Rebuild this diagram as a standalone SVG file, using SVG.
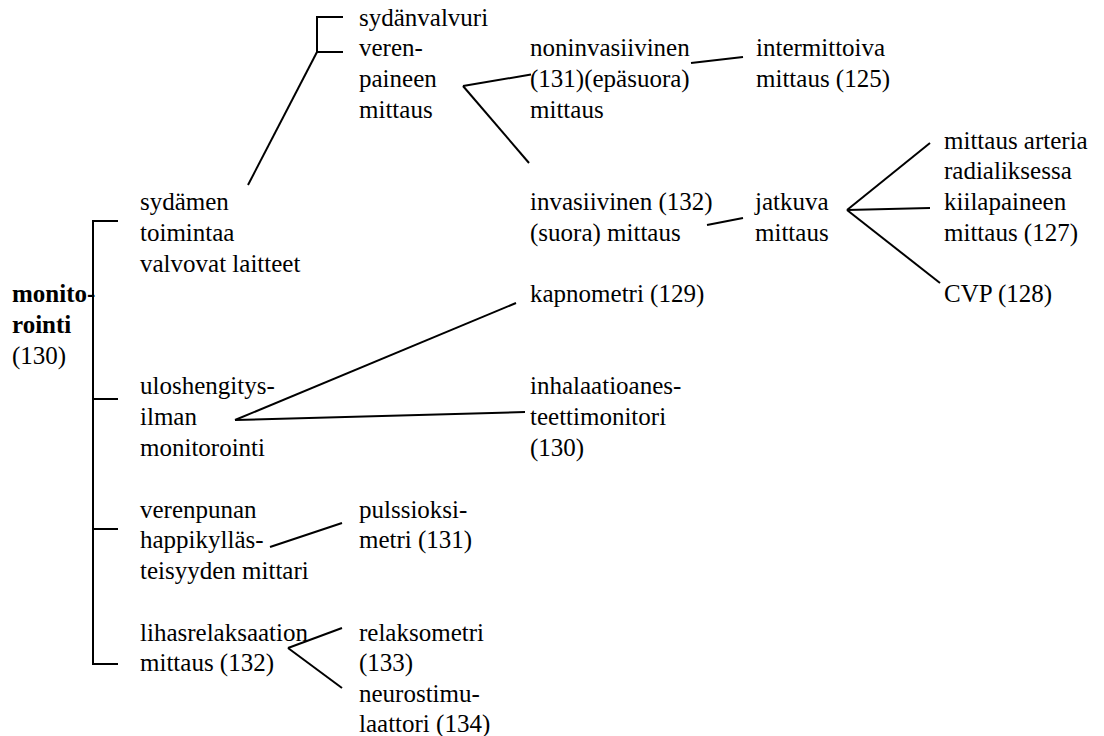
<svg xmlns="http://www.w3.org/2000/svg" width="1104" height="736" viewBox="0 0 1104 736">
<style>
.t text{font-size:25px;fill:#000}
.b{font-weight:bold}
.c line,.c polyline{stroke:#000;stroke-width:2;fill:none}
</style>
<rect width="1104" height="736" fill="#fff"/>
<g class="c" id="connectors">
<polyline points="118,221 93,221 93,664 118,664"/>
<line x1="93" y1="399" x2="118" y2="399"/>
<line x1="93" y1="529" x2="118" y2="529"/>
<polyline points="343,17 317,17 317,52 343,52"/>
<line x1="248" y1="185" x2="317" y2="52"/>
<line x1="463" y1="86" x2="531" y2="74.5"/>
<line x1="463" y1="86" x2="529" y2="163"/>
<line x1="691" y1="63" x2="743" y2="57"/>
<line x1="707" y1="225" x2="743" y2="218"/>
<line x1="847" y1="210" x2="930" y2="143"/>
<line x1="847" y1="210" x2="930" y2="208"/>
<line x1="847" y1="210" x2="940" y2="283"/>
<line x1="235" y1="420" x2="516" y2="303"/>
<line x1="235" y1="420" x2="525" y2="412"/>
<line x1="270" y1="547" x2="342" y2="523"/>
<line x1="288" y1="648" x2="342" y2="628"/>
<line x1="288" y1="648" x2="342" y2="688"/>
</g>
<g class="t" font-family="Liberation Serif, Times New Roman, Tinos, DejaVu Serif, serif">
<g id="monitorointi"><text x="12"><tspan class="b" y="302">monito-</tspan><tspan class="b" x="12" y="333">rointi</tspan><tspan x="12" y="364">(130)</tspan></text></g>
<g id="sydamen"><text x="140"><tspan y="210">sydämen</tspan><tspan x="140" y="241">toimintaa</tspan><tspan x="140" y="272">valvovat laitteet</tspan></text></g>
<g id="uloshengitys"><text x="140"><tspan y="394">uloshengitys-</tspan><tspan x="140" y="425">ilman</tspan><tspan x="140" y="456">monitorointi</tspan></text></g>
<g id="verenpunan"><text x="140"><tspan y="517.5">verenpunan</tspan><tspan x="140" y="548">happikylläs-</tspan><tspan x="140" y="579">teisyyden mittari</tspan></text></g>
<g id="lihas"><text x="140"><tspan y="640.5">lihasrelaksaation</tspan><tspan x="140" y="671">mittaus (132)</tspan></text></g>
<g id="sydanvalvuri"><text x="359" y="25.5">sydänvalvuri</text></g>
<g id="verenpaine"><text x="359"><tspan y="56">veren-</tspan><tspan x="359" y="87">paineen</tspan><tspan x="359" y="118">mittaus</tspan></text></g>
<g id="pulssioksimetri"><text x="359"><tspan y="517.5">pulssioksi-</tspan><tspan x="359" y="548">metri (131)</tspan></text></g>
<g id="relaksometri"><text x="359"><tspan y="640.5">relaksometri</tspan><tspan x="359" y="671">(133)</tspan></text></g>
<g id="neurostimulaattori"><text x="359"><tspan y="702">neurostimu-</tspan><tspan x="359" y="732">laattori (134)</tspan></text></g>
<g id="noninvasiivinen"><text x="530"><tspan y="56">noninvasiivinen</tspan><tspan x="530" y="87">(131)(epäsuora)</tspan><tspan x="530" y="118">mittaus</tspan></text></g>
<g id="invasiivinen"><text x="530"><tspan y="210">invasiivinen (132)</tspan><tspan x="530" y="241">(suora) mittaus</tspan></text></g>
<g id="kapnometri"><text x="530" y="302">kapnometri (129)</text></g>
<g id="inhalaatio"><text x="530"><tspan y="394">inhalaatioanes-</tspan><tspan x="530" y="425">teettimonitori</tspan><tspan x="530" y="456">(130)</tspan></text></g>
<g id="intermittoiva"><text x="756"><tspan y="56">intermittoiva</tspan><tspan x="756" y="87">mittaus (125)</tspan></text></g>
<g id="jatkuva"><text x="755"><tspan y="210">jatkuva</tspan><tspan x="755" y="241">mittaus</tspan></text></g>
<g id="arteria"><text x="944"><tspan y="148.5">mittaus arteria</tspan><tspan x="944" y="179">radialiksessa</tspan></text></g>
<g id="kiilapaine"><text x="944"><tspan y="210">kiilapaineen</tspan><tspan x="944" y="241">mittaus (127)</tspan></text></g>
<g id="cvp"><text x="944" y="302">CVP (128)</text></g>
</g>
</svg>
